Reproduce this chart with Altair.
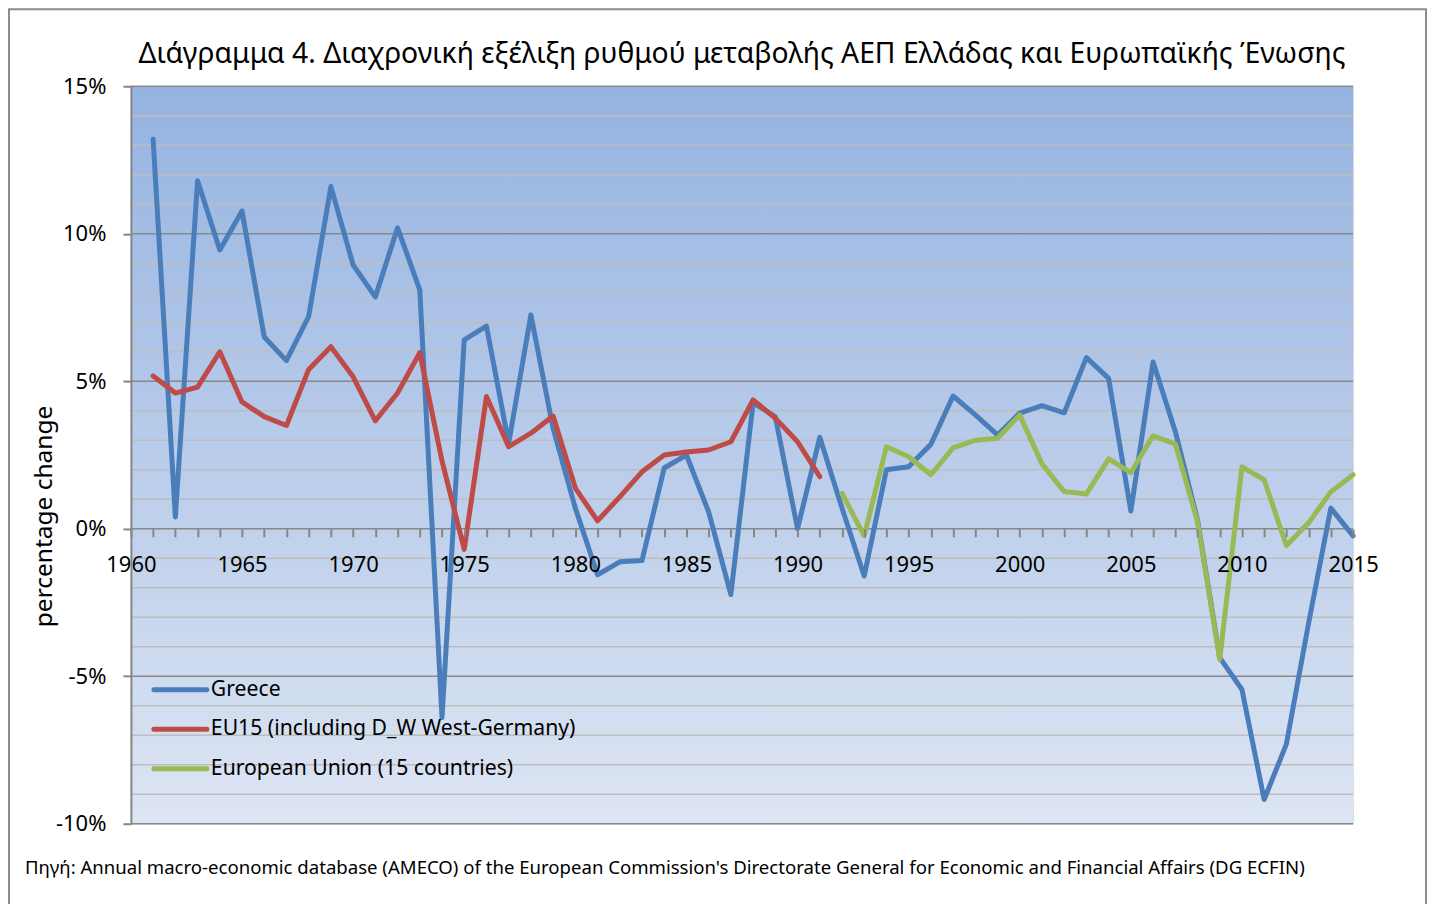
import altair as alt
import pandas as pd

# ---------------- data ----------------
series_names = ["Greece", "EU15 (including D_W West-Germany)", "European Union (15 countries)"]
series_colors = ["#4A7EBB", "#BE4B48", "#98B954"]

greece_years = list(range(1961, 2016))
greece = [13.2, 0.4, 11.8, 9.45, 10.77, 6.5, 5.7, 7.2, 11.6, 8.94,
          7.86, 10.2, 8.1, -6.4, 6.4, 6.87, 2.9, 7.25, 3.4, 0.7,
          -1.56, -1.12, -1.08, 2.06, 2.5, 0.57, -2.23, 4.27, 3.8, 0.0,
          3.1, 0.7, -1.6, 2.0, 2.1, 2.86, 4.5, 3.86, 3.18, 3.92,
          4.17, 3.93, 5.8, 5.1, 0.6, 5.65, 3.3, 0.3, -4.37, -5.45,
          -9.18, -7.3, -3.2, 0.7, -0.24]

eu15dw_years = list(range(1961, 1992))
eu15dw = [5.18, 4.6, 4.8, 6.0, 4.3, 3.8, 3.5, 5.4, 6.17, 5.15,
          3.66, 4.6, 5.97, 2.3, -0.7, 4.48, 2.78, 3.24, 3.82, 1.38,
          0.27, 1.08, 1.93, 2.5, 2.6, 2.67, 2.95, 4.37, 3.75, 2.95,
          1.77]

eu15_years = list(range(1992, 2016))
eu15 = [1.2, -0.24, 2.78, 2.44, 1.83, 2.74, 3.0, 3.07, 3.86, 2.2,
        1.26, 1.18, 2.37, 1.9, 3.15, 2.88, 0.24, -4.43, 2.1, 1.66,
        -0.57, 0.2, 1.25, 1.83]

x_domain = [1960, 2015]
y_domain = [-10, 15]
grid_values = list(range(-10, 16))
year_ticks = list(range(1960, 2016))

title_text = "Διάγραμμα 4. Διαχρονική εξέλιξη ρυθμού μεταβολής ΑΕΠ Ελλάδας και Ευρωπαϊκής Ένωσης"
y_title = "percentage change"
source_text = ("Πηγή: Annual macro-economic database (AMECO) of the European Commission's "
               "Directorate General for Economic and Financial Affairs (DG ECFIN)")

# ---------------- tables ----------------
rows = []
for yrs, vals, name in [(greece_years, greece, series_names[0]),
                        (eu15dw_years, eu15dw, series_names[1]),
                        (eu15_years, eu15, series_names[2])]:
    for yr, v in zip(yrs, vals):
        rows.append({"year": yr, "value": v, "series": name})
df = pd.DataFrame(rows)
grid_df = pd.DataFrame({"g": grid_values})
legend_df = pd.DataFrame({"series": series_names})

# ---------------- layout / style ----------------
W, H = 1223, 738
FONT = "Noto Sans"
GRAY = "#868686"
zero_offset = -(H * (0 - y_domain[0]) / (y_domain[1] - y_domain[0]))

color_scale = alt.Scale(domain=series_names, range=series_colors)
y_scale = alt.Scale(domain=y_domain, nice=False, zero=False)

bg = alt.Chart(alt.Data(values=[{}])).mark_rect(
    fill=alt.Gradient(
        gradient="linear",
        stops=[alt.GradientStop(color="#95B3E1", offset=0),
               alt.GradientStop(color="#DDE5F3", offset=1)],
        x1=0, x2=0, y1=0, y2=1),
    stroke=None,
).encode(x=alt.value(0), x2=alt.value(W), y=alt.value(0), y2=alt.value(H))

border = alt.Chart(alt.Data(values=[{}])).mark_rect(
    filled=False, stroke="#8C8C8C", strokeWidth=2
).encode(x=alt.value(-122), x2=alt.value(1296), y=alt.value(-77), y2=alt.value(H + 120))

grid = alt.Chart(grid_df).mark_rule(strokeWidth=1.6).encode(
    y=alt.Y("g:Q", scale=y_scale, axis=None),
    color=alt.condition("datum.g % 5 == 0", alt.value("#888888"), alt.value("#BDBDBD")),
)

lines = alt.Chart(df).mark_line(strokeWidth=5, strokeJoin="round", strokeCap="round").encode(
    x=alt.X("year:Q",
            scale=alt.Scale(domain=x_domain, nice=False, zero=False),
            axis=alt.Axis(values=year_ticks,
                          labelExpr="datum.value % 5 == 0 ? '' + datum.value : ''",
                          offset=zero_offset, domain=False,
                          tickSize=8, tickColor=GRAY, tickWidth=2,
                          labelFontSize=22, labelFont=FONT, labelColor="black",
                          labelPadding=18, labelFlush=False, labelOverlap=False,
                          title=None, grid=False, zindex=1)),
    y=alt.Y("value:Q", scale=y_scale,
            axis=alt.Axis(values=grid_values,
                          labelExpr="datum.value % 5 == 0 ? datum.value + '%' : ''",
                          tickSize=8, tickColor=GRAY, tickWidth=2,
                          tickOpacity={"condition": {"test": "datum.value % 5 == 0", "value": 1}, "value": 0},
                          domainColor=GRAY, domainWidth=2,
                          labelFontSize=22, labelFont=FONT, labelColor="black",
                          labelPadding=17, labelOverlap=False, grid=False, zindex=1,
                          title=y_title, titleFont=FONT, titleFontSize=24.5,
                          titleFontWeight="normal", titleColor="black",
                          titleAngle=270, titleX=-86, titleY=430,
                          titleAlign="center", titleBaseline="middle")),
    color=alt.Color("series:N", scale=color_scale, legend=None),
    detail="series:N",
)

leg_y = alt.Y("series:N",
              scale=alt.Scale(type="point", domain=series_names, range=[604, 683], padding=0),
              axis=None)
legend_rules = alt.Chart(legend_df).mark_rule(strokeWidth=5, strokeCap="round").encode(
    x=alt.value(23), x2=alt.value(76), y=leg_y,
    color=alt.Color("series:N", scale=color_scale, legend=None),
)
legend_text = alt.Chart(legend_df).mark_text(
    align="left", baseline="middle", font=FONT, fontSize=21.2, color="black"
).encode(x=alt.value(80), y=leg_y, text="series:N")

title = alt.Chart(alt.Data(values=[{"t": title_text}])).mark_text(
    align="center", baseline="alphabetic", font=FONT, fontSize=28.3, color="black"
).encode(x=alt.value(W / 2), y=alt.value(-23), text="t:N")

source = alt.Chart(alt.Data(values=[{"t": source_text}])).mark_text(
    align="left", baseline="middle", font=FONT, fontSize=18.6, color="black"
).encode(x=alt.value(-106), y=alt.value(782), text="t:N")

chart = alt.layer(bg, border, grid, lines, legend_rules, legend_text, title, source).resolve_scale(
    y="independent"
).properties(
    width=W, height=H,
    autosize=alt.AutoSizeParams(type="none"),
    padding={"left": 123, "top": 78, "right": 74, "bottom": 80},
).configure_view(stroke=None).configure(background="white")

chart.save("out.html", embed_options={"renderer": "svg", "actions": False})
